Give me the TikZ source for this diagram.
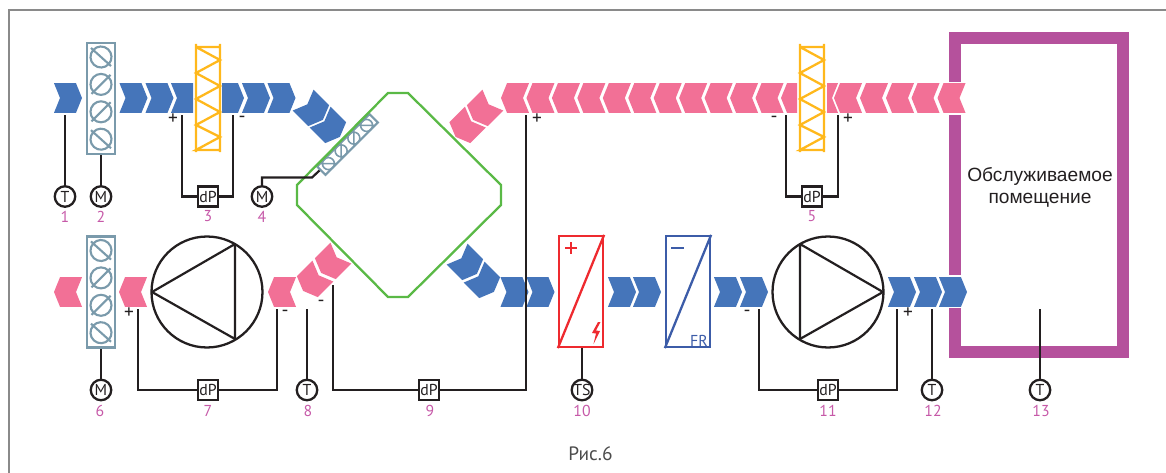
\documentclass[tikz,border=0pt]{standalone}
\usepackage{fontspec}
\setmainfont{PT Sans}
\newfontfamily\roomfont{Liberation Sans}
\usepackage{tikz}
\usetikzlibrary{positioning}

\definecolor{airblue}{HTML}{4575BA}
\definecolor{airpink}{HTML}{F27096}
\definecolor{dampgrey}{HTML}{7A9AAB}
\definecolor{filteryellow}{HTML}{FFB81C}
\definecolor{hxgreen}{HTML}{5AB946}
\definecolor{roompurple}{HTML}{B5519C}
\definecolor{numpink}{HTML}{C659A8}
\definecolor{inkblack}{HTML}{231F20}
\definecolor{heatred}{HTML}{EE2A2F}
\definecolor{coolblue}{HTML}{3C5CA8}
\definecolor{framegrey}{HTML}{8A8A8A}

\tikzset{
    sensor/.style={circle, draw=inkblack, fill=white, line width=1.3pt, minimum size=4.1mm, inner sep=0pt, text=inkblack, font=\fontsize{9}{10}\selectfont},
    dpbox/.style={rectangle, draw=inkblack, fill=white, line width=1.3pt, minimum size=4mm, inner sep=0pt, text=inkblack, font=\fontsize{9}{10}\selectfont},
    num/.style={text=numpink, inner sep=0pt, font=\fontsize{9}{10}\selectfont},
    signlabel/.style={text=inkblack, inner sep=0pt, font=\fontsize{11}{12}\selectfont},
    wire/.style={draw=inkblack, line width=1.25pt},
    dampline/.style={draw=dampgrey, line width=1.2pt},
    fanbody/.style={circle, draw=inkblack, line width=1.3pt, minimum size=22.2mm, inner sep=0pt},
    coilbox/.style={rectangle, line width=1.3pt, minimum width=8.8mm, minimum height=22.2mm, inner sep=0pt},
    damperbox/.style={rectangle, draw=dampgrey, line width=1.3pt, minimum width=5.6mm, minimum height=22.2mm, inner sep=0pt},
}

% one air-flow chevron: colour, x, y, angle
\newcommand{\chev}[4]{\fill[#1, shift={(#2,#3)}, rotate=#4] (-14,-14.8) -- (8,-14.8) -- (14,0) -- (8,14.8) -- (-14,14.8) -- (-8,0) -- cycle;}
% damper blades: x, first y of four
\newcommand{\blades}[2]{
    \foreach \k/\a in {0/-42,1/45,2/45,3/-42} {
        \draw[dampline, shift={(#1,#2+27.4*\k)}, rotate=\a] (-13.5,0) -- (13.5,0) (0,0) circle[radius=10.5];
    }
}
% bag filter: x of left rail
\newcommand{\bagfilter}[1]{
    \draw[draw=filteryellow, line width=1.3pt, shift={(#1,0)}]
        (0,44) -- (0,152) (24,44) -- (24,152) (0,47) -- (24,47)
        (0,47) -- (24,60) -- (0,73) -- (24,86) -- (0,99) -- (24,112) -- (0,125) -- (24,137) -- (0,150) -- (24,150);
}

\begin{document}
\begin{tikzpicture}[x=0.02cm, y=-0.02cm]
    \useasboundingbox (0,0) rectangle (1166,473);

    % frame
    \draw[draw=framegrey, line width=1.2pt] (9,473) -- (9,10) -- (1166,10);

    % room
    \draw[draw=roompurple, line width=12*0.567pt] (955,82) -- (955,38) -- (1123,38) -- (1123,352) -- (955,352) -- (955,308);
    \draw[draw=roompurple, line width=12*0.567pt] (955,115) -- (955,275);
    \node[align=center, text=inkblack, font=\roomfont\fontsize{10.9}{12.6}\selectfont] (room) at (1040,187) {Обслуживаемое\\помещение};

    % supply air, top row
    \chev{airblue}{68}{98}{0}
    \chev{airblue}{133.5}{98}{0}
    \chev{airblue}{159.5}{98}{0}
    \fill[airblue] (171,83.2) -- (193,83.2) -- (193,112.8) -- (171,112.8) -- (177,98) -- cycle;
    \fill[airblue] (222,83.2) -- (238,83.2) -- (244,98) -- (238,112.8) -- (222,112.8) -- cycle;
    \chev{airblue}{256}{98}{0}
    \chev{airblue}{281.5}{98}{0}
    \chev{airblue}{313}{110}{-45}
    \chev{airblue}{330}{127}{-45}

    % return air, top row
    \foreach \k in {0,...,10} {
        \chev{airpink}{515+25.45*\k}{98}{180}
    }
    \fill[airpink] (781,98) -- (787,83.2) -- (797,83.2) -- (797,112.8) -- (787,112.8) -- cycle;
    \fill[airpink] (827,83.2) -- (838,83.2) -- (832,98) -- (838,112.8) -- (827,112.8) -- cycle;
    \foreach \x in {848,874,900,925.5,951.5} {
        \chev{airpink}{\x}{98}{180}
    }
    \chev{airpink}{483}{110}{225}
    \chev{airpink}{465.5}{127}{225}

    % return air, bottom row
    \chev{airpink}{68}{292}{180}
    \chev{airpink}{133}{292}{180}
    \chev{airpink}{282}{292}{180}
    \chev{airpink}{313}{281}{225}
    \chev{airpink}{331}{263}{225}

    % supply air, bottom row
    \chev{airblue}{467}{264}{-45}
    \chev{airblue}{484}{282}{-45}
    \chev{airblue}{514.5}{292}{0}
    \chev{airblue}{540.5}{292}{0}
    \chev{airblue}{622}{292}{0}
    \chev{airblue}{647}{292}{0}
    \chev{airblue}{728}{292}{0}
    \chev{airblue}{754}{292}{0}
    \chev{airblue}{902}{292}{0}
    \chev{airblue}{928}{292}{0}
    \chev{airblue}{953}{292}{0}

    % dampers
    \node[damperbox] (damp2) at (101,98.5) {};
    \node[damperbox] (damp6) at (101,292) {};
    \blades{101}{57}
    \blades{101}{250.5}

    % filters
    \bagfilter{196}
    \bagfilter{800}

    % bypass damper
    \begin{scope}[shift={(347.5,144.5)}, rotate=45]
        \draw[dampline, fill=white] (-37,-6) rectangle (37,6);
        \foreach \k/\a in {-27/-45,-9/45,9/45,27/-45} {
            \draw[dampline, line width=0.9pt, shift={(\k,0)}, rotate=\a] (-7.5,0) -- (7.5,0) (0,0) circle[radius=6];
        }
    \end{scope}

    % heat exchanger
    \draw[draw=hxgreen, line width=1.3pt] (388,93) -- (408,93) -- (501,185) -- (501,205) -- (408,297) -- (388,297) -- (297,205) -- (297,185) -- cycle;

    % fans
    \node[fanbody] (fan7) at (207,292) {};
    \draw[wire, line join=round] (152,292) -- (235,244) -- (235,339) -- cycle;
    \node[fanbody] (fan11) at (828,292) {};
    \draw[wire, line join=round] (883,292) -- (800,244) -- (800,339) -- cycle;

    % heater and cooler
    \node[coilbox, draw=heatred] (heat10) at (581,291.5) {};
    \draw[draw=heatred, line width=1.3pt] (heat10.south west) -- (heat10.north east);
    \draw[draw=heatred, line width=1.3pt] (565,248) -- (577,248) (571,242) -- (571,254);
    \fill[heatred] (598,322) -- (592,333) -- (596,333.5) -- (593.5,344) -- (600,331) -- (596,330.5) -- (600.5,322) -- cycle;
    \node[coilbox, draw=coolblue] (cool) at (688,291.5) {};
    \draw[draw=coolblue, line width=1.3pt] (cool.south west) -- (cool.north east);
    \draw[draw=coolblue, line width=1.3pt] (671,248) -- (684,248);
    \node[text=coolblue, inner sep=0pt, font=\fontsize{9}{10}\selectfont] (fr) at (699,341) {FR};

    % sensors
    \node[sensor] (t1) at (65,196.5) {T};
    \node[sensor] (m2) at (101,196.5) {M};
    \node[dpbox] (dp3) at (208,196.5) {dP};
    \node[sensor] (m4) at (262,196.5) {M};
    \node[dpbox] (dp5) at (812,196.5) {dP};
    \node[sensor] (m6) at (101,390) {M};
    \node[dpbox] (dp7) at (208,390) {dP};
    \node[sensor] (t8) at (307,390) {T};
    \node[dpbox] (dp9) at (429,390) {dP};
    \node[sensor] (ts10) at (582,390) {TS};
    \node[dpbox] (dp11) at (828,390) {dP};
    \node[sensor] (t12) at (932,390) {T};
    \node[sensor] (t13) at (1040,390) {T};

    % free ends of the wires
    \coordinate (e1) at (65,115.5);
    \coordinate (e3a) at (182,115.5);
    \coordinate (e3b) at (233,115.5);
    \coordinate (e4a) at (312,177.5);
    \coordinate (e4b) at (319.5,170.5);
    \coordinate (e5a) at (786,115.5);
    \coordinate (e5b) at (838,115.5);
    \coordinate (e7a) at (138,309);
    \coordinate (e7b) at (277,309);
    \coordinate (e8) at (307,309);
    \coordinate (e9a) at (333,285);
    \coordinate (e9b) at (526,115.5);
    \coordinate (e11a) at (759,309);
    \coordinate (e11b) at (897,309);
    \coordinate (e12) at (932,309);
    \coordinate (e13) at (1040,309);

    \draw[wire] (t1) -- (e1);
    \draw[wire] (m2) -- (damp2);
    \draw[wire] (dp3) -| (e3a);
    \draw[wire] (dp3) -| (e3b);
    \draw[wire] (m4) |- (e4a) -- (e4b);
    \draw[wire] (dp5) -| (e5a);
    \draw[wire] (dp5) -| (e5b);
    \draw[wire] (m6) -- (damp6);
    \draw[wire] (dp7) -| (e7a);
    \draw[wire] (dp7) -| (e7b);
    \draw[wire] (t8) -- (e8);
    \draw[wire] (dp9) -| (e9a);
    \draw[wire] (dp9) -| (e9b);
    \draw[wire] (ts10) -- (ts10 |- heat10.south);
    \draw[wire] (dp11) -| (e11a);
    \draw[wire] (dp11) -| (e11b);
    \draw[wire] (t12) -- (e12);
    \draw[wire] (t13) -- (e13);

    % pressure tappings
    \node[signlabel] (s3a) at (173,119) {+};
    \node[signlabel] (s3b) at (242,119) {-};
    \node[signlabel] (s5a) at (774,119) {-};
    \node[signlabel] (s5b) at (848,119) {+};
    \node[signlabel] (s7a) at (129,313) {+};
    \node[signlabel] (s7b) at (285,313) {-};
    \node[signlabel] (s9a) at (321,303) {-};
    \node[signlabel] (s9b) at (537,119) {+};
    \node[signlabel] (s11a) at (747,313) {-};
    \node[signlabel] (s11b) at (908,313) {+};

    % numbers
    \node[num] (n1) at (65,216.5) {1};
    \node[num] (n2) at (101,216.5) {2};
    \node[num] (n3) at (208,216.5) {3};
    \node[num] (n4) at (262,216.5) {4};
    \node[num] (n5) at (812,216.5) {5};
    \node[num] (n6) at (100,411) {6};
    \node[num] (n7) at (208,411) {7};
    \node[num] (n8) at (308,411) {8};
    \node[num] (n9) at (430,411) {9};
    \node[num] (n10) at (582,411) {10};
    \node[num] (n11) at (828,411) {11};
    \node[num] (n12) at (933,411) {12};
    \node[num] (n13) at (1041,411) {13};

    \node[text=black!70, inner sep=0pt, font=\fontsize{11}{13}\selectfont] (caption) at (590.5,454) {Рис.6};
\end{tikzpicture}
\end{document}
